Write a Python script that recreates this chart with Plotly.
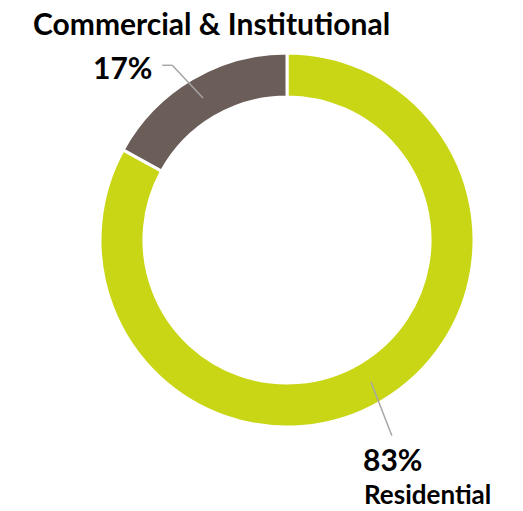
import math
import plotly.graph_objects as go

# Share of buildings by sector
sectors = ["Residential", "Commercial & Institutional"]
shares = [83, 17]
colors = ["#c9d616", "#6b5d58"]

W, H = 523, 511
cx, cy, R = 287, 240, 187   # donut centre and outer radius (px)
hole = 0.765

fig = go.Figure(go.Pie(
    labels=sectors,
    values=shares,
    sort=False,
    direction="clockwise",
    rotation=0,
    hole=hole,
    marker=dict(colors=colors, line=dict(color="white", width=3)),
    textinfo="none",
    hoverinfo="label+percent",
    showlegend=False,
    domain=dict(x=[(cx - R) / W, (cx + R) / W],
                y=[1 - (cy + R) / H, 1 - (cy - R) / H]),
))


def px(x, y):
    return x / W, 1 - y / H


# mid-angle of each slice, clockwise from 12 o'clock
total = sum(shares)
mids = []
acc = 0
for v in shares:
    mids.append((acc + v / 2) / total * 2 * math.pi)
    acc += v


def polar(r, a):
    return cx + r * math.sin(a), cy - r * math.cos(a)


r_mid = R * (1 + hole) / 2
grey = "#a6a6a6"

# Residential leader line
x0, y0 = polar(r_mid, mids[0])
x1, y1 = polar(R + 35, mids[0] + 0.042)
# Commercial leader line (elbow)
x2, y2 = polar(r_mid, mids[1])
x3, y3 = polar(R + 22, mids[1] - 0.047)
x4 = x3 - 10

lines = [((x0, y0), (x1, y1)), ((x2, y2), (x3, y3)), ((x3, y3), (x4, y3))]
for (a, b) in lines:
    p, q = px(*a), px(*b)
    fig.add_shape(type="line", xref="paper", yref="paper",
                  x0=p[0], y0=p[1], x1=q[0], y1=q[1],
                  line=dict(color=grey, width=1.5))

font = "Lato"
pct = [f"{v}%" for v in shares]
annos = [
    (sectors[1], 32, 23, "left", 30),
    (pct[1], 153, 67, "right", 30),
    (pct[0], 392, 459, "center", 30),
    (sectors[0], 427, 494, "center", 26),
]
for text, x, y, anchor, size in annos:
    p = px(x, y)
    fig.add_annotation(text=f"<b>{text}</b>", x=p[0], y=p[1],
                       xref="paper", yref="paper", showarrow=False,
                       xanchor=anchor, yanchor="middle", borderpad=0,
                       font=dict(family=font, size=size, color="black"))

fig.update_layout(width=W, height=H, margin=dict(l=0, r=0, t=0, b=0),
                  paper_bgcolor="white", plot_bgcolor="white")
fig.write_html("out.html")
